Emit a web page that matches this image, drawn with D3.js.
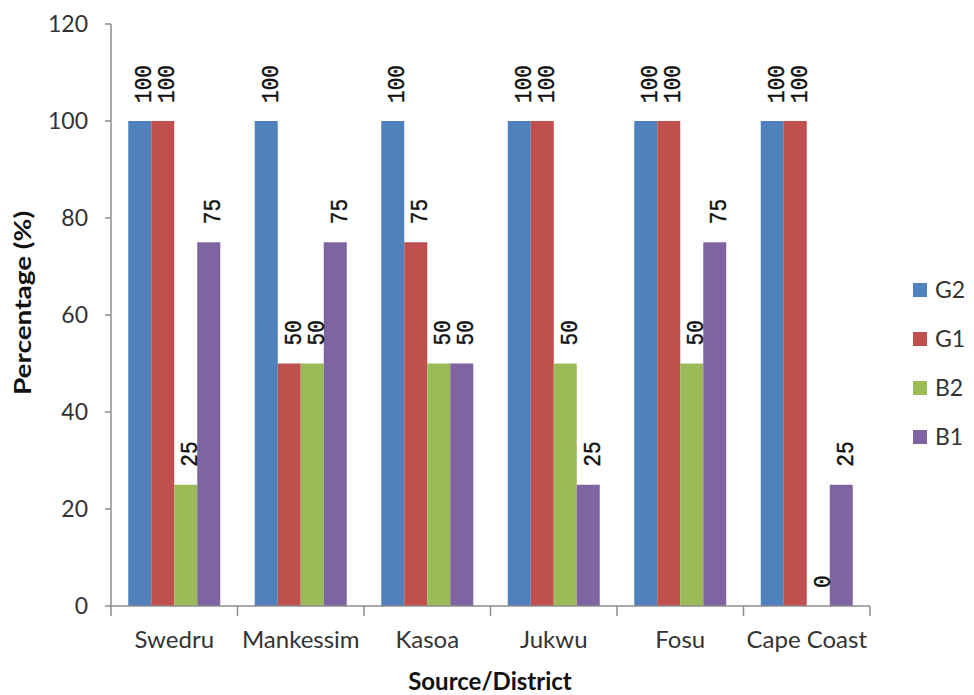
<!DOCTYPE html>
<html>
<head>
<meta charset="utf-8">
<script src="https://cdn.jsdelivr.net/npm/d3@7"></script>
<style>
  html, body { margin: 0; padding: 0; background: #fff; }
  svg { display: block; }
</style>
</head>
<body>
<svg id="chart" width="974" height="695"></svg>
<script>
// Districts along the x axis
const categories = ["Swedru", "Mankessim", "Kasoa", "Jukwu", "Fosu", "Cape Coast"];
// Series names (legend order)
const seriesNames = ["G2", "G1", "B2", "B1"];
// Percentage values per series, one per district
const g2Values = [100, 100, 100, 100, 100, 100];
const g1Values = [100, 50, 75, 100, 100, 100];
const b2Values = [25, 50, 50, 50, 50, 0];
const b1Values = [75, 75, 50, 25, 75, 25];
// Y axis tick values
const yTicks = [0, 20, 40, 60, 80, 100, 120];

const seriesValues = [g2Values, g1Values, b2Values, b1Values];
const colors = ["#4F81BD", "#C0504D", "#9BBB59", "#8064A2"];

const svg = d3.select("#chart");
const plot = { left: 111, right: 870, top: 24, bottom: 606 };
const textFont = "Lato, 'Open Sans', sans-serif";
const textColor = "#333333";
const axisColor = "#8c8c8c";

const x0 = d3.scaleBand().domain(categories).range([plot.left, plot.right]).paddingInner(0).paddingOuter(0);
const x1 = d3.scaleBand().domain(seriesNames).range([0, x0.bandwidth()]).paddingInner(0).paddingOuter(0.75);
const y = d3.scaleLinear().domain([0, 120]).range([plot.bottom, plot.top]);

// Bars
const groups = svg.append("g").selectAll("g")
  .data(categories)
  .join("g")
  .attr("transform", d => `translate(${x0(d)},0)`);

const rows = categories.map((c, i) => seriesNames.map((s, j) => ({ cat: c, series: s, value: seriesValues[j][i], color: colors[j] })));

groups.selectAll("rect")
  .data((d, i) => rows[i])
  .join("rect")
  .attr("x", d => x1(d.series))
  .attr("y", d => y(d.value))
  .attr("width", x1.bandwidth())
  .attr("height", d => y(0) - y(d.value))
  .attr("fill", d => d.color);

// Value labels, rotated, above each bar
groups.selectAll("text")
  .data((d, i) => rows[i])
  .join("text")
  .attr("transform", d => `translate(${x1(d.series) + x1.bandwidth() / 2},${y(d.value) - 18}) rotate(-90) scale(0.92,1)`)
  .attr("dy", "0.5em")
  .attr("text-anchor", "start")
  .attr("font-family", "'Liberation Mono', 'DejaVu Sans Mono', monospace")
  .attr("font-size", 23)
  .attr("stroke", "#111")
  .attr("stroke-width", 0.4)
  .attr("fill", "#111")
  .text(d => d.value);

// Y axis
const yAxis = svg.append("g");
yAxis.append("line")
  .attr("x1", plot.left).attr("x2", plot.left)
  .attr("y1", plot.top).attr("y2", plot.bottom)
  .attr("stroke", axisColor).attr("stroke-width", 1.5);
yAxis.selectAll("line.tick")
  .data(yTicks)
  .join("line")
  .attr("class", "tick")
  .attr("x1", plot.left - 6).attr("x2", plot.left)
  .attr("y1", d => y(d)).attr("y2", d => y(d))
  .attr("stroke", axisColor).attr("stroke-width", 1.5);
yAxis.selectAll("text")
  .data(yTicks)
  .join("text")
  .attr("x", 88)
  .attr("y", d => y(d))
  .attr("dy", "0.36em")
  .attr("text-anchor", "end")
  .attr("font-family", textFont)
  .attr("font-size", 23)
  .attr("fill", textColor)
  .text(d => d);

// X axis
const xAxis = svg.append("g");
xAxis.append("line")
  .attr("x1", plot.left).attr("x2", plot.right)
  .attr("y1", plot.bottom).attr("y2", plot.bottom)
  .attr("stroke", axisColor).attr("stroke-width", 1.5);
const boundaries = categories.map(c => x0(c)).concat([plot.right]);
xAxis.selectAll("line.tick")
  .data(boundaries)
  .join("line")
  .attr("class", "tick")
  .attr("x1", d => d).attr("x2", d => d)
  .attr("y1", plot.bottom).attr("y2", plot.bottom + 10)
  .attr("stroke", axisColor).attr("stroke-width", 1.5);
xAxis.selectAll("text")
  .data(categories)
  .join("text")
  .attr("x", d => x0(d) + x0.bandwidth() / 2)
  .attr("y", 648)
  .attr("text-anchor", "middle")
  .attr("font-family", textFont)
  .attr("font-size", 24)
  .attr("fill", textColor)
  .text(d => d);

// Axis titles
svg.append("text")
  .attr("x", 490).attr("y", 690)
  .attr("text-anchor", "middle")
  .attr("font-family", textFont)
  .attr("font-weight", "bold")
  .attr("font-size", 24)
  .attr("fill", "#111")
  .text("Source/District");

svg.append("text")
  .attr("transform", "translate(31,303) rotate(-90) scale(1.27,1)")
  .attr("text-anchor", "middle")
  .attr("font-family", textFont)
  .attr("font-weight", "bold")
  .attr("font-size", 22)
  .attr("fill", "#111")
  .text("Percentage (%)");

// Legend
const legend = svg.append("g").selectAll("g")
  .data(seriesNames)
  .join("g")
  .attr("transform", (d, i) => `translate(913,${290 + i * 49})`);
legend.append("rect")
  .attr("x", 0).attr("y", -7)
  .attr("width", 14).attr("height", 14)
  .attr("fill", (d, i) => colors[i]);
legend.append("text")
  .attr("x", 22).attr("y", 0)
  .attr("dy", "0.36em")
  .attr("font-family", textFont)
  .attr("font-size", 23)
  .attr("fill", textColor)
  .text(d => d);
</script>
</body>
</html>
